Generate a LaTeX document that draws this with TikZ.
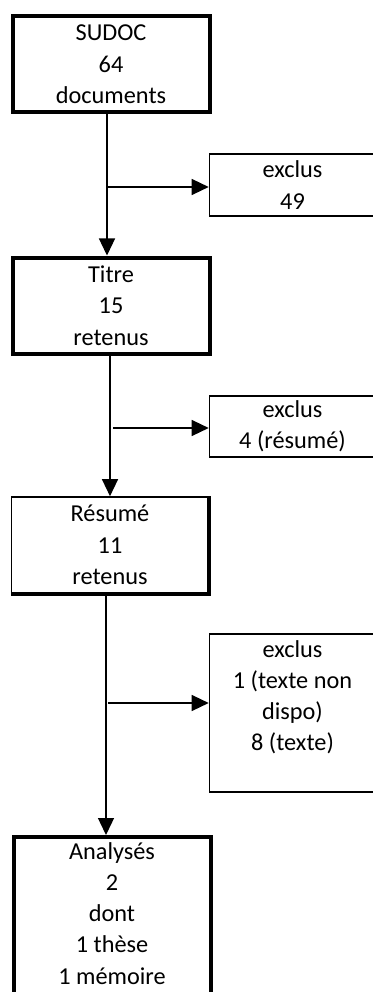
\documentclass[tikz,border=0pt]{standalone}
\usepackage{fontspec}
\setmainfont{Carlito}
\usetikzlibrary{arrows.meta}
\begin{document}
\begin{tikzpicture}[x=1pt,y=-1pt,
  txt/.style={font=\fontsize{24.3}{31.3}\selectfont, align=center},
  mainbox/.style={draw, line width=4pt, minimum width=197pt, minimum height=96pt, inner sep=0pt, txt},
  exbox/.style={draw, line width=1.6pt, minimum width=166pt, inner sep=0pt, txt},
  toptext/.style={txt, anchor=north, inner sep=0pt, yshift=-7pt},
  arr/.style={line width=1.3pt, -{Triangle[length=17pt,width=16pt]}},
]
\useasboundingbox (0,0) rectangle (372,992);
% main column
\node[mainbox] (sudoc) at (111,64.5) {SUDOC\\64\\documents};
\node[mainbox] (titre) at (111,305.5) {Titre\\15\\retenus};
\node[mainbox, line width=1.6pt] (resume) at (110,545) {Résumé\\11\\retenus};
\draw[line width=3.8pt] (resume.north east) -- (resume.south east) -- (resume.south west);
\node[mainbox, minimum height=190pt, anchor=north,
      label={[toptext]north:Analysés\\2\\dont\\1 thèse\\1 mémoire}] (analyses) at (112,835) {};
% excluded boxes
\node[exbox, minimum height=62.5pt] (ex1) at (292.5,185) {exclus\\49};
\node[exbox, minimum height=61.5pt] (ex2) at (292.5,426.5) {exclus\\4 (résumé)};
\node[exbox, minimum height=158.5pt,
      label={[toptext]north:exclus\\1 (texte non\\dispo)\\8 (texte)}] (ex3) at (292.5,713) {};
% vertical flow
\draw[arr] ([xshift=-4pt]sudoc.south) -- ([xshift=-4pt]sudoc.south |- titre.north);
\draw[arr] ([xshift=-1pt]titre.south) -- ([xshift=-1pt]titre.south |- resume.north);
\draw[arr] ([xshift=-4pt]resume.south) -- ([xshift=-4pt]resume.south |- analyses.north);
% branches
\coordinate (b1) at (107,187);
\coordinate (b2) at (113,428);
\coordinate (b3) at (108,703);
\draw[arr] (b1) -- (b1 -| ex1.west);
\draw[arr] (b2) -- (b2 -| ex2.west);
\draw[arr] (b3) -- (b3 -| ex3.west);
\end{tikzpicture}
\end{document}
